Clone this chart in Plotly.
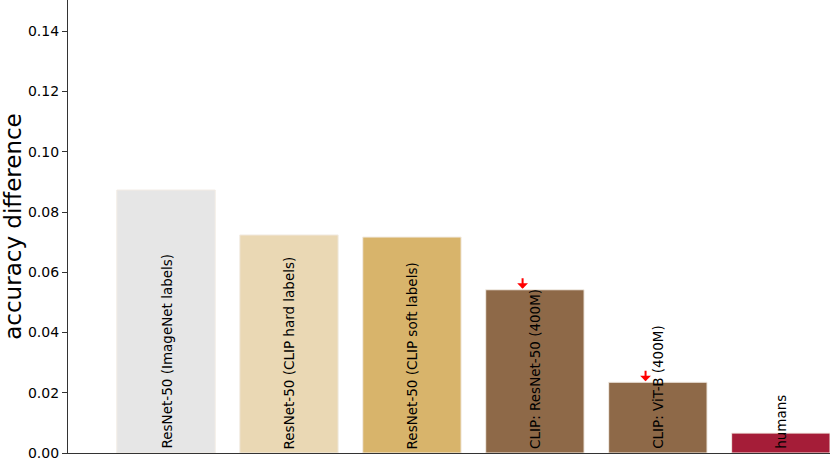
import plotly.graph_objects as go

# data
models = [
    "ResNet-50 (ImageNet labels)",
    "ResNet-50 (CLIP hard labels)",
    "ResNet-50 (CLIP soft labels)",
    "CLIP: ResNet-50 (400M)",
    "CLIP: ViT-B (400M)",
    "humans",
]
acc_diff = [0.0873, 0.0724, 0.0717, 0.0542, 0.0235, 0.0066]
colors = ["#e6e6e6", "#ead8b4", "#d8b46b", "#8e6948", "#8e6948", "#a51d38"]
arrow_models = ["CLIP: ResNet-50 (400M)", "CLIP: ViT-B (400M)"]

FONT = "DejaVu Sans"

fig = go.Figure()
fig.add_trace(go.Bar(
    x=list(range(len(models))),
    y=acc_diff,
    width=0.8,
    marker=dict(color=colors, line=dict(color="#f2ece4", width=1)),
    hovertext=models,
    showlegend=False,
))

# rotated labels sitting at the bottom of each bar
for i, name in enumerate(models):
    fig.add_annotation(
        x=i, y=0, text=name, textangle=-90, showarrow=False,
        xanchor="center", yanchor="bottom", yshift=2,
        font=dict(family=FONT, size=13.5, color="black"),
    )

# small red arrows above the CLIP bars
for name in arrow_models:
    i = models.index(name)
    fig.add_annotation(
        x=i - 0.1, y=acc_diff[i], ax=0, ay=-12, showarrow=True,
        arrowhead=1, arrowsize=0.9, arrowwidth=2, arrowcolor="red",
        text="", yshift=1,
    )

fig.update_layout(
    width=830, height=461,
    margin=dict(l=68, r=0, t=0, b=6),
    plot_bgcolor="white", paper_bgcolor="white",
    font=dict(family=FONT, color="black"),
    bargap=0.2,
)
fig.update_xaxes(
    range=[-0.797, 5.4], showticklabels=False, ticks="",
    showgrid=False, zeroline=False,
    showline=True, linecolor="#333333", linewidth=1.2,
)
fig.update_yaxes(
    range=[0, 0.1504], tickvals=[0, 0.02, 0.04, 0.06, 0.08, 0.10, 0.12, 0.14],
    tickformat=".2f", ticks="outside", ticklen=5, tickcolor="#333333",
    tickfont=dict(family=FONT, size=14, color="black"),
    ticklabeloverflow="allow",
    showgrid=False, zeroline=False,
    showline=True, linecolor="#333333", linewidth=1.2,
    title=dict(text="accuracy difference", font=dict(family=FONT, size=23, color="black"),
               standoff=8),
)

fig.write_html("out.html", config={"displayModeBar": False},
               post_script="document.body.style.margin='0';")
